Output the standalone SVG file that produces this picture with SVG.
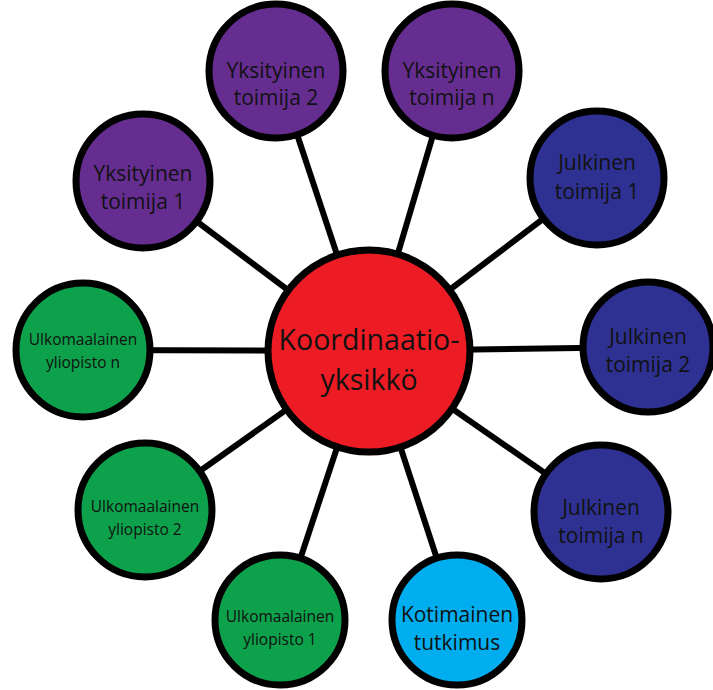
<svg xmlns="http://www.w3.org/2000/svg" width="713" height="690" viewBox="0 0 713 690">
<style>
.n{stroke:#000;stroke-width:7}
.p{fill:#662D91}.b{fill:#2E3192}.g{fill:#0CA14A}.c{fill:#00AEEF}.r{fill:#ED1C24}
text{font-family:"Open Sans","Noto Sans",sans-serif;fill:#111;text-anchor:middle}
.t{font-size:21px}.s{font-size:15.5px}.k{font-size:28.5px}
#connectors line{stroke:#000;stroke-width:6}
</style>
<rect width="713" height="690" fill="#fff"/>
<g id="connectors">
<line x1="369" y1="351" x2="276" y2="71"/>
<line x1="369" y1="351" x2="452" y2="71"/>
<line x1="369" y1="351" x2="143" y2="181"/>
<line x1="369" y1="351" x2="597" y2="178"/>
<line x1="369" y1="351" x2="83" y2="350"/>
<line x1="369" y1="351" x2="648" y2="347"/>
<line x1="369" y1="351" x2="145" y2="510"/>
<line x1="369" y1="351" x2="601" y2="512"/>
<line x1="369" y1="351" x2="280" y2="620"/>
<line x1="369" y1="351" x2="457" y2="620"/>
</g>
<g id="yksityinen2"><circle class="n p" cx="276" cy="71" r="67"/><text class="t" x="276" y="78">Yksityinen</text><text class="t" x="276" y="105">toimija 2</text></g>
<g id="yksityinenN"><circle class="n p" cx="452" cy="71" r="67"/><text class="t" x="452" y="78">Yksityinen</text><text class="t" x="452" y="105">toimija n</text></g>
<g id="yksityinen1"><circle class="n p" cx="143" cy="181" r="67"/><text class="t" x="143" y="181">Yksityinen</text><text class="t" x="143" y="209">toimija 1</text></g>
<g id="julkinen1"><circle class="n b" cx="597" cy="178" r="67"/><text class="t" x="597" y="170">Julkinen</text><text class="t" x="597" y="199">toimija 1</text></g>
<g id="julkinen2"><circle class="n b" cx="648" cy="347" r="65"/><text class="t" x="648" y="344">Julkinen</text><text class="t" x="648" y="372">toimija 2</text></g>
<g id="julkinenN"><circle class="n b" cx="601" cy="512" r="67"/><text class="t" x="601" y="515">Julkinen</text><text class="t" x="601" y="543">toimija n</text></g>
<g id="ulkomaalainenN"><circle class="n g" cx="83" cy="350" r="67"/><text class="s" x="83" y="345">Ulkomaalainen</text><text class="s" x="83" y="368">yliopisto n</text></g>
<g id="ulkomaalainen2"><circle class="n g" cx="145" cy="510" r="67"/><text class="s" x="145" y="512">Ulkomaalainen</text><text class="s" x="145" y="535">yliopisto 2</text></g>
<g id="ulkomaalainen1"><circle class="n g" cx="280" cy="620" r="65"/><text class="s" x="280" y="622">Ulkomaalainen</text><text class="s" x="280" y="645">yliopisto 1</text></g>
<g id="kotimainen"><circle class="n c" cx="457" cy="620" r="65"/><text class="t" x="457" y="622">Kotimainen</text><text class="t" x="457" y="650">tutkimus</text></g>
<g id="koordinaatio"><circle class="n r" cx="369" cy="351" r="101"/><text class="k" x="369" y="350">Koordinaatio-</text><text class="k" x="369" y="390">yksikkö</text></g>
</svg>
